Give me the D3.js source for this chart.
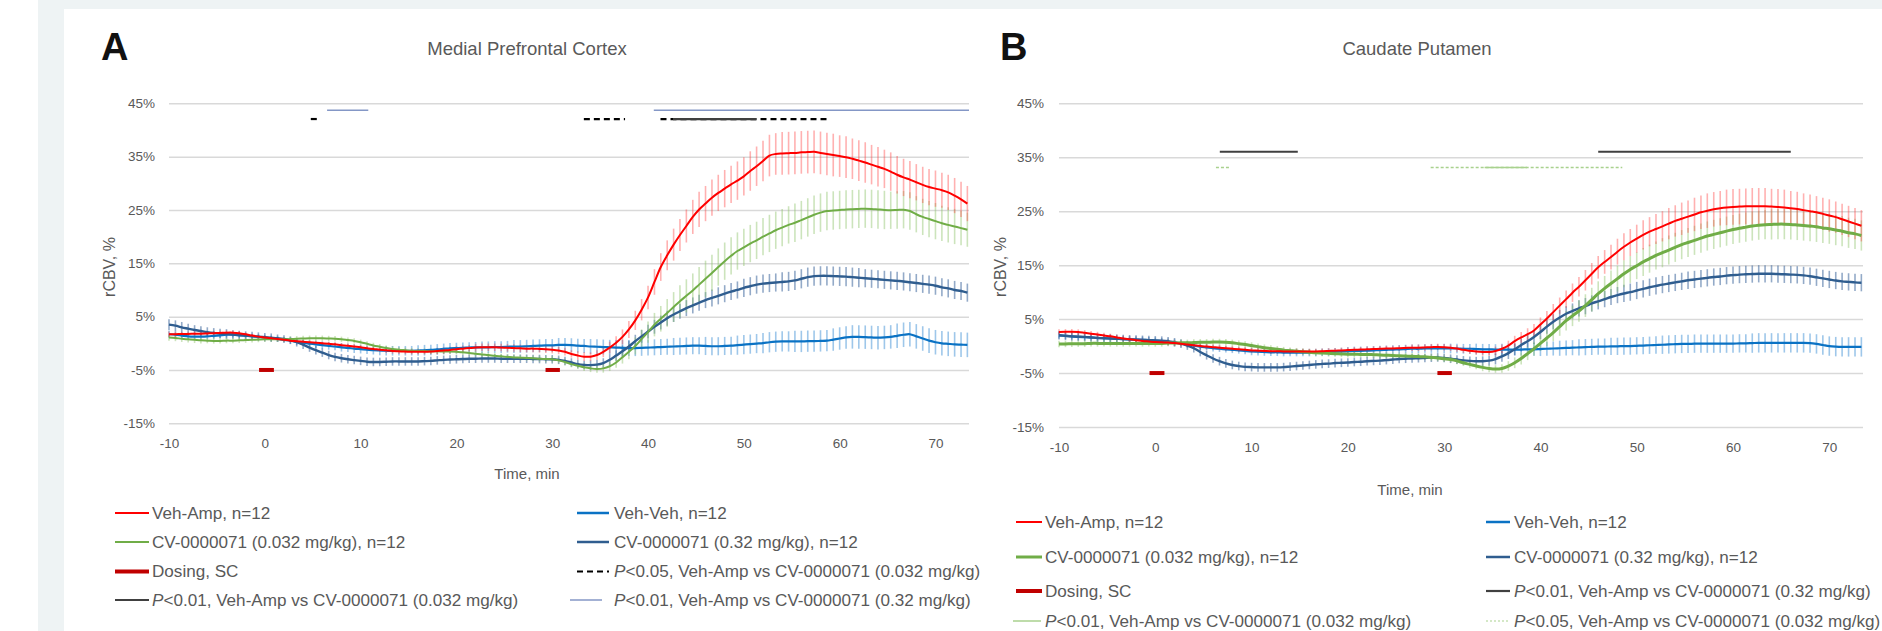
<!DOCTYPE html>
<html><head><meta charset="utf-8">
<script src="https://cdn.jsdelivr.net/npm/d3@7"></script>
<style>html,body{margin:0;padding:0;background:#fff;}svg{display:block;}</style>
</head><body>
<svg id="chart" width="1882" height="631"></svg>
<script>
// ---------------- DATA ----------------
const minutes = [
-10,-9.33,-8.67,-8,-7.33,-6.67,-6,-5.33,-4.67,-4,-3.33,-2.67,-2,-1.33,-0.67,
0,0.67,1.33,2,2.67,3.33,4,4.67,5.33,6,6.67,7.33,8,8.67,9.33,
10,10.67,11.33,12,12.67,13.33,14,14.67,15.33,16,16.67,17.33,18,18.67,19.33,
20,20.67,21.33,22,22.67,23.33,24,24.67,25.33,26,26.67,27.33,28,28.67,29.33,
30,30.67,31.33,32,32.67,33.33,34,34.67,35.33,36,36.67,37.33,38,38.67,39.33,
40,40.67,41.33,42,42.67,43.33,44,44.67,45.33,46,46.67,47.33,48,48.67,49.33,
50,50.67,51.33,52,52.67,53.33,54,54.67,55.33,56,56.67,57.33,58,58.67,59.33,
60,60.67,61.33,62,62.67,63.33,64,64.67,65.33,66,66.67,67.33,68,68.67,69.33,
70,70.67,71.33,72,72.67,73.33];

const xTicks = [-10,0,10,20,30,40,50,60,70];
const yTicks = [-15,-5,5,15,25,35,45];

// Panel A: Medial Prefrontal Cortex (rCBV %, mean and SEM)
const mpfcVehAmp = [
1.7,1.7,1.75,1.75,1.8,1.8,1.85,1.9,1.95,2.0,2.0,1.9,1.7,1.45,1.25,
1.1,0.95,0.8,0.65,0.5,0.4,0.3,0.2,0.1,0,-0.1,-0.2,-0.35,-0.45,-0.6,
-0.75,-0.95,-1.05,-1.2,-1.3,-1.45,-1.5,-1.55,-1.6,-1.6,-1.6,-1.55,-1.45,-1.35,-1.25,
-1.1,-1.0,-0.9,-0.8,-0.75,-0.75,-0.75,-0.8,-0.85,-0.9,-0.95,-1.0,-1.0,-1.05,-1.1,
-1.2,-1.35,-1.6,-2.0,-2.3,-2.5,-2.5,-2.2,-1.6,-0.8,0.1,1.2,2.6,4.3,6.3,
8.6,11.5,14.3,16.5,18.5,20.3,22.0,23.7,25.1,26.2,27.3,28.2,29.0,29.8,30.5,
31.3,32.3,33.2,34.2,35.2,35.5,35.6,35.65,35.7,35.8,35.85,35.9,35.7,35.5,35.3,
35.1,34.9,34.6,34.25,33.9,33.5,33.1,32.7,32.2,31.6,31.1,30.7,30.2,29.7,29.3,
29.0,28.7,28.3,27.7,27.0,26.2];
const mpfcVehAmpSem = [
0.5,0.5,0.4,0.4,0.4,0.4,0.4,0.4,0.4,0.4,0.4,0.4,0.3,0.3,0.3,
0.3,0.3,0.3,0.3,0.3,0.3,0.3,0.3,0.3,0.3,0.4,0.4,0.4,0.4,0.4,
0.4,0.4,0.4,0.4,0.5,0.5,0.5,0.5,0.5,0.5,0.5,0.5,0.6,0.6,0.6,
0.6,0.6,0.6,0.7,0.7,0.7,0.7,0.7,0.7,0.7,0.7,0.7,0.7,0.7,0.7,
0.7,0.7,0.7,0.7,0.8,0.8,0.8,0.9,1.0,1.1,1.2,1.4,1.6,1.8,2.0,
2.2,2.4,2.6,2.8,3.0,3.0,3.1,3.2,3.3,3.3,3.4,3.4,3.5,3.5,3.6,
3.6,3.7,3.7,3.8,3.9,3.9,4.0,4.0,4.0,4.0,4.0,4.0,4.0,4.0,4.0,
3.9,3.9,3.8,3.8,3.8,3.7,3.7,3.6,3.6,3.5,3.5,3.5,3.4,3.4,3.4,
3.4,3.3,3.3,3.3,3.3,3.3];
const mpfcVehVeh = [
1.7,1.6,1.45,1.3,1.25,1.25,1.3,1.4,1.5,1.6,1.6,1.5,1.4,1.3,1.2,
1.1,0.95,0.8,0.65,0.5,0.3,0.1,-0.05,-0.2,-0.35,-0.5,-0.6,-0.75,-0.85,-1.0,
-1.1,-1.2,-1.3,-1.35,-1.4,-1.4,-1.4,-1.4,-1.4,-1.35,-1.3,-1.25,-1.15,-1.05,-0.95,
-0.9,-0.85,-0.8,-0.75,-0.75,-0.75,-0.7,-0.7,-0.65,-0.6,-0.6,-0.55,-0.5,-0.45,-0.4,
-0.4,-0.3,-0.3,-0.35,-0.45,-0.5,-0.6,-0.65,-0.7,-0.75,-0.8,-0.85,-0.9,-0.9,-0.85,
-0.8,-0.75,-0.7,-0.65,-0.6,-0.55,-0.5,-0.45,-0.45,-0.5,-0.55,-0.55,-0.5,-0.45,-0.35,
-0.25,-0.15,-0.05,0.05,0.2,0.3,0.35,0.35,0.35,0.35,0.4,0.4,0.45,0.5,0.7,
0.9,1.1,1.2,1.2,1.15,1.1,1.05,1.1,1.2,1.4,1.6,1.7,1.3,0.9,0.5,
0.2,0.0,-0.1,-0.2,-0.25,-0.3];
const mpfcVehVehSem = [
0.7,0.7,0.6,0.6,0.6,0.6,0.6,0.6,0.5,0.5,0.5,0.5,0.5,0.5,0.5,
0.5,0.5,0.5,0.5,0.6,0.6,0.6,0.6,0.7,0.7,0.7,0.7,0.8,0.8,0.8,
0.8,0.8,0.8,0.9,0.9,0.9,0.9,0.9,0.9,1.0,1.0,1.0,1.0,1.0,1.0,
1.0,1.0,1.0,1.0,1.1,1.1,1.1,1.1,1.1,1.2,1.2,1.2,1.2,1.2,1.2,
1.2,1.3,1.3,1.3,1.3,1.3,1.4,1.4,1.4,1.4,1.4,1.5,1.5,1.5,1.5,
1.5,1.5,1.5,1.5,1.6,1.6,1.6,1.6,1.6,1.7,1.7,1.7,1.7,1.7,1.8,
1.8,1.8,1.8,1.9,1.9,1.9,1.9,1.9,2.0,2.0,2.0,2.0,2.0,2.0,2.1,
2.1,2.1,2.2,2.2,2.2,2.2,2.2,2.2,2.2,2.3,2.3,2.3,2.3,2.3,2.3,
2.3,2.3,2.3,2.3,2.3,2.3];
const mpfcLowDose = [
1.1,1.0,0.85,0.75,0.65,0.55,0.5,0.45,0.45,0.5,0.5,0.55,0.6,0.65,0.7,
0.75,0.75,0.75,0.75,0.8,0.85,0.9,0.95,0.95,0.95,0.9,0.85,0.75,0.6,0.45,
0.2,-0.1,-0.4,-0.65,-0.9,-1.05,-1.2,-1.3,-1.4,-1.45,-1.45,-1.5,-1.5,-1.55,-1.55,
-1.6,-1.7,-1.8,-1.95,-2.1,-2.2,-2.35,-2.45,-2.55,-2.65,-2.7,-2.75,-2.8,-2.9,-2.95,
-3.0,-3.2,-3.5,-3.9,-4.2,-4.5,-4.7,-4.8,-4.7,-4.3,-3.6,-2.6,-1.6,-0.5,0.8,
2.1,3.5,4.6,5.7,6.8,7.9,8.9,9.9,11.0,12.1,13.2,14.3,15.4,16.4,17.3,
18.0,18.7,19.3,20.0,20.6,21.2,21.7,22.2,22.6,23.1,23.6,24.1,24.5,24.8,24.9,
25.0,25.1,25.15,25.2,25.25,25.2,25.1,25.0,24.95,25.0,25.05,24.8,24.2,23.7,23.3,
22.9,22.5,22.2,21.9,21.6,21.3];
const mpfcLowDoseSem = [
0.6,0.6,0.6,0.6,0.6,0.6,0.5,0.5,0.5,0.5,0.5,0.5,0.5,0.5,0.5,
0.5,0.5,0.5,0.5,0.5,0.5,0.5,0.5,0.5,0.5,0.5,0.5,0.5,0.5,0.5,
0.5,0.5,0.5,0.5,0.5,0.5,0.5,0.5,0.5,0.5,0.5,0.5,0.5,0.5,0.5,
0.5,0.5,0.5,0.5,0.5,0.5,0.5,0.5,0.5,0.5,0.5,0.5,0.5,0.6,0.6,
0.6,0.6,0.6,0.6,0.6,0.7,0.7,0.7,0.8,0.9,1.0,1.2,1.4,1.6,1.8,
2.0,2.2,2.4,2.6,2.8,3.0,3.1,3.2,3.3,3.4,3.4,3.5,3.5,3.5,3.5,
3.5,3.5,3.5,3.5,3.5,3.5,3.5,3.5,3.6,3.6,3.6,3.6,3.6,3.6,3.6,
3.6,3.6,3.6,3.6,3.6,3.6,3.6,3.6,3.5,3.5,3.5,3.5,3.4,3.4,3.4,
3.4,3.3,3.3,3.3,3.2,3.2];
const mpfcHighDose = [
3.5,3.3,3.0,2.75,2.5,2.3,2.1,1.95,1.85,1.75,1.65,1.55,1.45,1.35,1.25,
1.15,1.05,0.95,0.8,0.55,0.2,-0.25,-0.8,-1.3,-1.75,-2.2,-2.55,-2.8,-3.0,-3.15,
-3.3,-3.45,-3.5,-3.5,-3.45,-3.4,-3.4,-3.4,-3.4,-3.4,-3.35,-3.3,-3.2,-3.1,-3.05,
-3.0,-2.95,-2.9,-2.9,-2.85,-2.85,-2.85,-2.9,-2.9,-2.9,-2.9,-2.9,-2.95,-2.95,-3.0,
-3.0,-3.1,-3.3,-3.6,-3.9,-4.05,-4.1,-4.0,-3.7,-3.1,-2.3,-1.5,-0.6,0.4,1.3,
2.2,3.1,3.9,4.7,5.4,6.0,6.6,7.1,7.6,8.1,8.5,8.9,9.3,9.7,10.0,
10.4,10.7,11.0,11.2,11.3,11.4,11.5,11.6,11.8,12.1,12.4,12.6,12.65,12.65,12.6,
12.55,12.5,12.4,12.3,12.2,12.1,12.0,11.9,11.8,11.7,11.6,11.45,11.3,11.15,11.0,
10.8,10.5,10.3,10.0,9.8,9.5];
const mpfcHighDoseSem = [
1.0,1.0,1.0,0.9,0.9,0.9,0.9,0.9,0.9,0.9,0.8,0.8,0.8,0.8,0.8,
0.8,0.8,0.7,0.7,0.7,0.8,0.8,0.8,0.8,0.8,0.8,0.8,0.8,0.8,0.8,
0.8,0.8,0.8,0.8,0.8,0.8,0.8,0.8,0.8,0.8,0.8,0.8,0.8,0.8,0.8,
0.8,0.8,0.8,0.8,0.8,0.8,0.8,0.8,0.8,0.8,0.8,0.8,0.8,0.8,0.8,
0.8,0.8,0.8,0.8,0.8,0.8,0.9,0.9,0.9,1.0,1.0,1.1,1.1,1.2,1.2,
1.3,1.3,1.3,1.4,1.4,1.4,1.5,1.5,1.5,1.5,1.6,1.6,1.6,1.6,1.6,
1.7,1.7,1.7,1.7,1.7,1.7,1.8,1.8,1.8,1.8,1.8,1.8,1.8,1.8,1.8,
1.8,1.8,1.8,1.8,1.7,1.7,1.7,1.7,1.7,1.7,1.7,1.7,1.7,1.7,1.7,
1.7,1.7,1.7,1.7,1.7,1.7];

// Panel B: Caudate Putamen
const cpVehAmp = [
2.6,2.65,2.65,2.6,2.45,2.3,2.15,1.95,1.8,1.6,1.4,1.25,1.1,0.95,0.85,
0.75,0.7,0.65,0.55,0.45,0.3,0.15,0.0,-0.1,-0.2,-0.3,-0.4,-0.5,-0.6,-0.7,
-0.8,-0.85,-0.9,-0.95,-0.95,-1.0,-1.0,-1.0,-1.0,-1.0,-1.0,-0.95,-0.9,-0.85,-0.8,
-0.75,-0.7,-0.65,-0.6,-0.55,-0.5,-0.45,-0.45,-0.4,-0.35,-0.3,-0.3,-0.25,-0.2,-0.15,
-0.2,-0.3,-0.45,-0.7,-0.85,-1.0,-1.1,-1.1,-0.9,-0.5,0.1,0.9,1.6,2.2,2.9,
4.0,5.1,6.3,7.5,8.7,9.9,11.0,12.2,13.4,14.6,15.6,16.5,17.5,18.4,19.2,
19.9,20.6,21.2,21.7,22.2,22.7,23.2,23.6,24.0,24.4,24.8,25.1,25.35,25.55,25.7,
25.8,25.85,25.9,25.9,25.9,25.9,25.85,25.8,25.7,25.55,25.4,25.2,25.0,24.8,24.5,
24.2,23.9,23.5,23.1,22.7,22.3];
const cpVehAmpSem = [
0.5,0.5,0.5,0.5,0.5,0.5,0.5,0.5,0.5,0.5,0.5,0.5,0.5,0.5,0.5,
0.5,0.5,0.5,0.5,0.5,0.5,0.5,0.5,0.5,0.5,0.5,0.5,0.5,0.5,0.5,
0.5,0.5,0.5,0.5,0.5,0.5,0.5,0.5,0.5,0.5,0.5,0.5,0.5,0.5,0.5,
0.5,0.5,0.5,0.5,0.5,0.5,0.5,0.5,0.5,0.5,0.6,0.6,0.6,0.6,0.6,
0.6,0.6,0.6,0.6,0.6,0.6,0.7,0.7,0.8,0.8,0.9,1.0,1.0,1.1,1.2,
1.3,1.4,1.5,1.5,1.6,1.7,1.8,1.9,2.0,2.1,2.2,2.3,2.4,2.5,2.5,
2.6,2.7,2.7,2.8,2.8,2.9,2.9,3.0,3.0,3.1,3.1,3.2,3.2,3.2,3.3,
3.3,3.3,3.3,3.4,3.4,3.4,3.3,3.3,3.3,3.2,3.2,3.1,3.1,3.0,3.0,
3.0,2.9,2.9,2.9,2.9,2.9];
const cpVehVeh = [
2.0,1.9,1.8,1.7,1.65,1.6,1.5,1.45,1.4,1.35,1.3,1.25,1.2,1.15,1.1,
1.0,0.9,0.8,0.65,0.5,0.3,0.1,-0.1,-0.25,-0.4,-0.5,-0.6,-0.7,-0.8,-0.9,
-1.0,-1.05,-1.1,-1.15,-1.15,-1.2,-1.2,-1.2,-1.2,-1.2,-1.2,-1.15,-1.1,-1.05,-1.0,
-0.95,-0.9,-0.9,-0.85,-0.8,-0.75,-0.7,-0.65,-0.6,-0.55,-0.5,-0.5,-0.45,-0.45,-0.45,
-0.45,-0.45,-0.45,-0.5,-0.5,-0.55,-0.6,-0.6,-0.65,-0.65,-0.65,-0.65,-0.65,-0.6,-0.6,
-0.55,-0.5,-0.45,-0.4,-0.35,-0.3,-0.25,-0.2,-0.15,-0.1,-0.1,-0.05,-0.05,0.0,0.0,
0.05,0.1,0.15,0.2,0.25,0.3,0.35,0.4,0.4,0.45,0.45,0.45,0.45,0.45,0.45,
0.45,0.5,0.5,0.55,0.6,0.6,0.6,0.6,0.6,0.6,0.6,0.6,0.55,0.4,0.2,
0.0,-0.1,-0.15,-0.15,-0.15,-0.15];
const cpVehVehSem = [
0.6,0.6,0.6,0.6,0.6,0.6,0.6,0.6,0.6,0.6,0.6,0.6,0.6,0.6,0.6,
0.6,0.6,0.6,0.6,0.6,0.6,0.6,0.6,0.6,0.6,0.6,0.6,0.6,0.6,0.6,
0.7,0.7,0.7,0.7,0.7,0.7,0.7,0.7,0.7,0.7,0.7,0.7,0.7,0.7,0.7,
0.8,0.8,0.8,0.8,0.8,0.8,0.8,0.8,0.8,0.8,0.8,0.8,0.8,0.8,0.8,
0.9,0.9,0.9,0.9,0.9,1.0,1.0,1.0,1.0,1.1,1.1,1.1,1.1,1.2,1.2,
1.3,1.3,1.3,1.4,1.4,1.4,1.5,1.5,1.5,1.5,1.5,1.6,1.6,1.6,1.6,
1.6,1.6,1.6,1.6,1.7,1.7,1.7,1.7,1.7,1.7,1.7,1.7,1.7,1.7,1.7,
1.7,1.7,1.7,1.8,1.8,1.8,1.8,1.8,1.8,1.8,1.8,1.8,1.8,1.8,1.8,
1.8,1.8,1.8,1.8,1.8,1.8];
const cpLowDose = [
0.4,0.4,0.45,0.45,0.45,0.5,0.5,0.5,0.5,0.5,0.5,0.5,0.5,0.5,0.5,
0.5,0.5,0.55,0.55,0.6,0.6,0.65,0.7,0.7,0.75,0.75,0.7,0.6,0.45,0.3,
0.1,-0.1,-0.3,-0.45,-0.6,-0.75,-0.85,-0.95,-1.05,-1.15,-1.25,-1.3,-1.35,-1.4,-1.45,
-1.5,-1.5,-1.55,-1.55,-1.6,-1.65,-1.7,-1.75,-1.8,-1.85,-1.9,-1.95,-2.0,-2.1,-2.2,
-2.35,-2.5,-2.75,-3.1,-3.4,-3.7,-3.95,-4.15,-4.25,-4.15,-3.7,-3.1,-2.3,-1.4,-0.5,
0.5,1.5,2.5,3.6,4.7,5.6,6.5,7.5,8.6,9.7,10.7,11.6,12.5,13.4,14.2,
14.9,15.6,16.2,16.8,17.3,17.8,18.3,18.8,19.2,19.6,20.0,20.4,20.7,21.0,21.3,
21.6,21.85,22.05,22.25,22.4,22.5,22.55,22.6,22.6,22.55,22.45,22.35,22.25,22.1,21.9,
21.75,21.5,21.3,21.0,20.8,20.5];
const cpLowDoseSem = [
0.6,0.6,0.6,0.6,0.6,0.6,0.6,0.6,0.6,0.6,0.6,0.6,0.6,0.6,0.6,
0.6,0.6,0.6,0.6,0.6,0.6,0.6,0.6,0.6,0.6,0.6,0.6,0.6,0.6,0.6,
0.6,0.6,0.6,0.6,0.6,0.6,0.6,0.6,0.6,0.6,0.6,0.6,0.6,0.6,0.6,
0.6,0.6,0.6,0.6,0.6,0.6,0.6,0.6,0.6,0.6,0.6,0.6,0.6,0.6,0.6,
0.6,0.6,0.6,0.6,0.6,0.6,0.7,0.7,0.7,0.8,0.9,1.0,1.1,1.2,1.3,
1.4,1.5,1.6,1.7,1.8,1.9,2.0,2.1,2.2,2.3,2.3,2.4,2.4,2.5,2.5,
2.5,2.6,2.6,2.6,2.7,2.7,2.7,2.7,2.7,2.7,2.7,2.7,2.7,2.7,2.7,
2.7,2.7,2.7,2.7,2.7,2.7,2.8,2.8,2.8,2.8,2.8,2.8,2.8,2.8,2.8,
2.8,2.8,2.8,2.8,2.8,2.8];
const cpHighDose = [
2.0,1.9,1.8,1.75,1.7,1.6,1.5,1.45,1.4,1.35,1.3,1.25,1.2,1.15,1.1,
1.05,1.0,0.9,0.7,0.45,0.1,-0.4,-1.1,-1.7,-2.3,-2.8,-3.2,-3.5,-3.7,-3.85,
-3.9,-3.95,-3.95,-3.95,-3.95,-3.9,-3.8,-3.7,-3.6,-3.5,-3.4,-3.3,-3.25,-3.15,-3.1,
-3.05,-2.95,-2.9,-2.8,-2.75,-2.7,-2.6,-2.5,-2.4,-2.35,-2.3,-2.25,-2.2,-2.15,-2.1,
-2.2,-2.35,-2.5,-2.65,-2.75,-2.8,-2.8,-2.7,-2.4,-1.9,-1.3,-0.6,0.2,0.9,1.7,
2.6,3.6,4.5,5.3,6.0,6.5,7.0,7.4,7.9,8.3,8.7,9.1,9.45,9.75,10.0,
10.3,10.6,10.9,11.15,11.4,11.6,11.8,12.0,12.2,12.35,12.5,12.65,12.8,12.9,13.05,
13.15,13.25,13.3,13.35,13.4,13.4,13.4,13.35,13.3,13.25,13.2,13.1,12.95,12.75,12.55,
12.35,12.15,12.0,11.9,11.8,11.75];
const cpHighDoseSem = [
0.8,0.8,0.8,0.8,0.8,0.8,0.8,0.8,0.8,0.8,0.8,0.8,0.8,0.8,0.8,
0.8,0.8,0.8,0.8,0.8,0.8,0.8,0.8,0.8,0.8,0.8,0.8,0.8,0.8,0.8,
0.8,0.8,0.8,0.8,0.8,0.8,0.8,0.8,0.8,0.8,0.8,0.8,0.8,0.8,0.8,
0.8,0.8,0.8,0.8,0.8,0.8,0.8,0.8,0.8,0.8,0.8,0.8,0.8,0.8,0.8,
0.8,0.8,0.8,0.8,0.8,0.8,0.9,0.9,1.0,1.0,1.1,1.1,1.2,1.2,1.3,
1.3,1.3,1.4,1.4,1.4,1.4,1.5,1.5,1.5,1.5,1.5,1.5,1.5,1.6,1.6,
1.6,1.6,1.6,1.6,1.6,1.6,1.6,1.6,1.6,1.6,1.6,1.6,1.6,1.6,1.6,
1.6,1.6,1.6,1.6,1.6,1.6,1.6,1.6,1.6,1.6,1.6,1.6,1.6,1.6,1.6,
1.6,1.6,1.6,1.6,1.6,1.6];

// Dosing windows (min)
const dosingWindows = [[-0.6, 0.95], [29.3, 30.8]];

// Significance intervals (min)
const mpfcSigP05Low = [[4.8, 5.5], [33.3, 37.6], [41.3, 58.9]];
const mpfcSigP01Low = [[42.6, 51.3]];
const mpfcSigP01High = [[6.5, 10.8], [40.6, 73.5]];
const cpSigP01High = [[6.7, 14.8], [46.0, 66.0]];
const cpSigP05Low = [[6.3, 7.8], [28.6, 48.5]];
const cpSigP01Low = [[34.2, 38.6]];

// ---------------- DRAWING ----------------
const W = 1882, H = 631;
const FONT = "'Liberation Sans', Arial, sans-serif";
const GREY = "#595959";
const svg = d3.select("#chart");

svg.append("rect").attr("x", 38).attr("y", 0).attr("width", W - 38).attr("height", H).attr("fill", "#eef3f4");
svg.append("rect").attr("x", 64).attr("y", 9).attr("width", W - 64).attr("height", H - 9).attr("fill", "#ffffff");

const STY = {
  red:   {color: "#ff0000", width: 2,   bar: "#ff3333", barOp: 0.38},
  vv:    {color: "#0a72c4", width: 2.2, bar: "#3d8fd6", barOp: 0.5},
  green: {color: "#70ad47", width: 2,   bar: "#8fc46a", barOp: 0.45},
  dark:  {color: "#2f5d8f", width: 2.4, bar: "#3a659a", barOp: 0.55}
};

function drawPanel(cfg) {
  const g = svg.append("g");
  const x = d3.scaleLinear().domain([-10, 73.5]).range([cfg.left, cfg.right]);
  const y = d3.scaleLinear().domain([-15, 45]).range([cfg.bottom, cfg.top]);

  // gridlines
  g.append("g").attr("transform", `translate(${cfg.left},0)`)
    .call(d3.axisLeft(y).tickValues(yTicks).tickSize(-(cfg.right - cfg.left)).tickFormat(""))
    .call(s => s.select(".domain").remove())
    .call(s => s.selectAll("line").attr("stroke", "#d9d9d9").attr("stroke-width", 1.5));

  // y tick labels
  g.append("g").attr("transform", `translate(${cfg.yLabelRight},0)`)
    .call(d3.axisLeft(y).tickValues(yTicks).tickSize(0).tickPadding(0).tickFormat(d => d + "%"))
    .call(s => s.select(".domain").remove())
    .call(s => s.selectAll("text").attr("font-family", FONT).attr("font-size", 13.5).attr("fill", GREY));

  // x tick labels
  g.append("g").attr("transform", `translate(0,${cfg.xLabelY})`)
    .call(d3.axisBottom(x).tickValues(xTicks).tickSize(0).tickPadding(0).tickFormat(d => String(d)))
    .call(s => s.select(".domain").remove())
    .call(s => s.selectAll("text").attr("y", 0).attr("dy", "0.35em")
      .attr("font-family", FONT).attr("font-size", 13.5).attr("fill", GREY));

  // error bars
  cfg.series.forEach(s => {
    g.append("g").selectAll("line")
      .data(minutes.map((t, i) => ({t: t, v: s.values[i], e: s.sem[i]})))
      .join("line")
      .attr("x1", d => x(d.t)).attr("x2", d => x(d.t))
      .attr("y1", d => y(d.v - d.e)).attr("y2", d => y(d.v + d.e))
      .attr("stroke", s.style.bar).attr("stroke-opacity", s.style.barOp).attr("stroke-width", 1.6);
  });
  // lines
  const line = d3.line().x((d, i) => x(minutes[i])).y(d => y(d)).curve(d3.curveCatmullRom);
  cfg.series.forEach(s => {
    g.append("path").datum(s.values).attr("d", line).attr("fill", "none")
      .attr("stroke", s.style.color).attr("stroke-width", s.lineWidth || s.style.width)
      .attr("stroke-linejoin", "round");
  });

  // significance bars
  cfg.sig.forEach(sg => {
    g.append("g").selectAll("line").data(sg.data).join("line")
      .attr("x1", d => x(d[0])).attr("x2", d => x(d[1]))
      .attr("y1", y(sg.level)).attr("y2", y(sg.level))
      .attr("stroke", sg.color).attr("stroke-width", sg.width)
      .attr("stroke-dasharray", sg.dash || null);
  });

  // dosing marks
  g.append("g").selectAll("line").data(dosingWindows).join("line")
    .attr("x1", d => x(d[0])).attr("x2", d => x(d[1]))
    .attr("y1", y(-5)).attr("y2", y(-5))
    .attr("stroke", "#c00000").attr("stroke-width", 4);

  // titles
  g.append("text").attr("x", cfg.letterX).attr("y", 60).text(cfg.letter)
    .attr("font-family", FONT).attr("font-weight", "bold").attr("font-size", 38).attr("fill", "#111");
  g.append("text").attr("x", cfg.titleX).attr("y", 55).attr("text-anchor", "middle").text(cfg.title)
    .attr("font-family", FONT).attr("font-size", 18.5).attr("fill", GREY);
  g.append("text").attr("x", cfg.xTitleX).attr("y", cfg.xTitleY).attr("text-anchor", "middle").text("Time, min")
    .attr("font-family", FONT).attr("font-size", 15).attr("fill", GREY);
  g.append("text").attr("transform", `translate(${cfg.yTitleX},267) rotate(-90)`).attr("text-anchor", "middle")
    .text("rCBV, %").attr("font-family", FONT).attr("font-size", 16).attr("fill", GREY);

  // legend
  cfg.legend.forEach(e => {
    const lg = g.append("g");
    lg.append("line").attr("x1", e.x1).attr("x2", e.x2).attr("y1", e.y).attr("y2", e.y)
      .attr("stroke", e.color).attr("stroke-width", e.width).attr("stroke-dasharray", e.dash || null);
    const t = lg.append("text").attr("x", e.tx).attr("y", e.y).attr("dy", "0.35em")
      .attr("font-family", FONT).attr("font-size", 17.1).attr("fill", GREY);
    e.parts.forEach(p => t.append("tspan").text(p[0]).attr("font-style", p[1] ? "italic" : null));
  });
}

const P05 = "<0.05, Veh-Amp vs CV-0000071 (0.032 mg/kg)";
const P01lo = "<0.01, Veh-Amp vs CV-0000071 (0.032 mg/kg)";
const P01hi = "<0.01, Veh-Amp vs CV-0000071 (0.32 mg/kg)";

drawPanel({
  left: 169, right: 969, top: 103.3, bottom: 423.3, yLabelRight: 155, xLabelY: 443,
  letter: "A", letterX: 101, title: "Medial Prefrontal Cortex", titleX: 527,
  xTitleX: 527, xTitleY: 479, yTitleX: 115,
  series: [
    {values: mpfcVehVeh, sem: mpfcVehVehSem, style: STY.vv},
    {values: mpfcHighDose, sem: mpfcHighDoseSem, style: STY.dark},
    {values: mpfcLowDose, sem: mpfcLowDoseSem, style: STY.green},
    {values: mpfcVehAmp, sem: mpfcVehAmpSem, style: STY.red}
  ],
  sig: [
    {data: mpfcSigP01High, level: 43.7, color: "#8497c6", width: 1.6},
    {data: mpfcSigP05Low, level: 42.05, color: "#000", width: 2.2, dash: "6,4"},
    {data: mpfcSigP01Low, level: 42.05, color: "#404040", width: 2.2}
  ],
  legend: [
    {x1: 115, x2: 149, y: 513, color: "#ff0000", width: 2, tx: 152, parts: [["Veh-Amp, n=12"]]},
    {x1: 577, x2: 609, y: 513, color: "#0a72c4", width: 2.5, tx: 614, parts: [["Veh-Veh, n=12"]]},
    {x1: 115, x2: 149, y: 542, color: "#70ad47", width: 2, tx: 152, parts: [["CV-0000071 (0.032 mg/kg), n=12"]]},
    {x1: 577, x2: 609, y: 542, color: "#2f5d8f", width: 2.5, tx: 614, parts: [["CV-0000071 (0.32 mg/kg), n=12"]]},
    {x1: 115, x2: 149, y: 571.5, color: "#c00000", width: 4, tx: 152, parts: [["Dosing, SC"]]},
    {x1: 577, x2: 609, y: 571.5, color: "#000", width: 2, dash: "6,4", tx: 614, parts: [["P", true], [P05]]},
    {x1: 115, x2: 149, y: 600, color: "#404040", width: 2.2, tx: 152, parts: [["P", true], [P01lo]]},
    {x1: 570, x2: 602, y: 600, color: "#8497c6", width: 1.5, tx: 614, parts: [["P", true], [P01hi]]}
  ]
});

drawPanel({
  left: 1059, right: 1863, top: 103.3, bottom: 427, yLabelRight: 1044, xLabelY: 447,
  letter: "B", letterX: 1000, title: "Caudate Putamen", titleX: 1417,
  xTitleX: 1410, xTitleY: 495, yTitleX: 1006,
  series: [
    {values: cpVehVeh, sem: cpVehVehSem, style: STY.vv},
    {values: cpHighDose, sem: cpHighDoseSem, style: STY.dark},
    {values: cpLowDose, sem: cpLowDoseSem, style: STY.green, lineWidth: 3},
    {values: cpVehAmp, sem: cpVehAmpSem, style: STY.red}
  ],
  sig: [
    {data: cpSigP01High, level: 36.0, color: "#404040", width: 2},
    {data: cpSigP05Low, level: 33.1, color: "#a9d18e", width: 1.5, dash: "3,2"},
    {data: cpSigP01Low, level: 33.1, color: "#a9d18e", width: 1.6}
  ],
  legend: [
    {x1: 1016, x2: 1042, y: 522, color: "#ff0000", width: 2, tx: 1045, parts: [["Veh-Amp, n=12"]]},
    {x1: 1486, x2: 1510, y: 522, color: "#0a72c4", width: 2.5, tx: 1514, parts: [["Veh-Veh, n=12"]]},
    {x1: 1016, x2: 1042, y: 557, color: "#70ad47", width: 3, tx: 1045, parts: [["CV-0000071 (0.032 mg/kg), n=12"]]},
    {x1: 1486, x2: 1510, y: 557, color: "#2f5d8f", width: 2.5, tx: 1514, parts: [["CV-0000071 (0.32 mg/kg), n=12"]]},
    {x1: 1016, x2: 1042, y: 591, color: "#c00000", width: 4, tx: 1045, parts: [["Dosing, SC"]]},
    {x1: 1486, x2: 1510, y: 591, color: "#404040", width: 2.2, tx: 1514, parts: [["P", true], [P01hi]]},
    {x1: 1013, x2: 1041, y: 621, color: "#a9d18e", width: 1.5, tx: 1045, parts: [["P", true], [P01lo]]},
    {x1: 1486, x2: 1510, y: 621, color: "#a9d18e", width: 1.2, dash: "2,2", tx: 1514, parts: [["P", true], [P05]]}
  ]
});
</script>
</body></html>
